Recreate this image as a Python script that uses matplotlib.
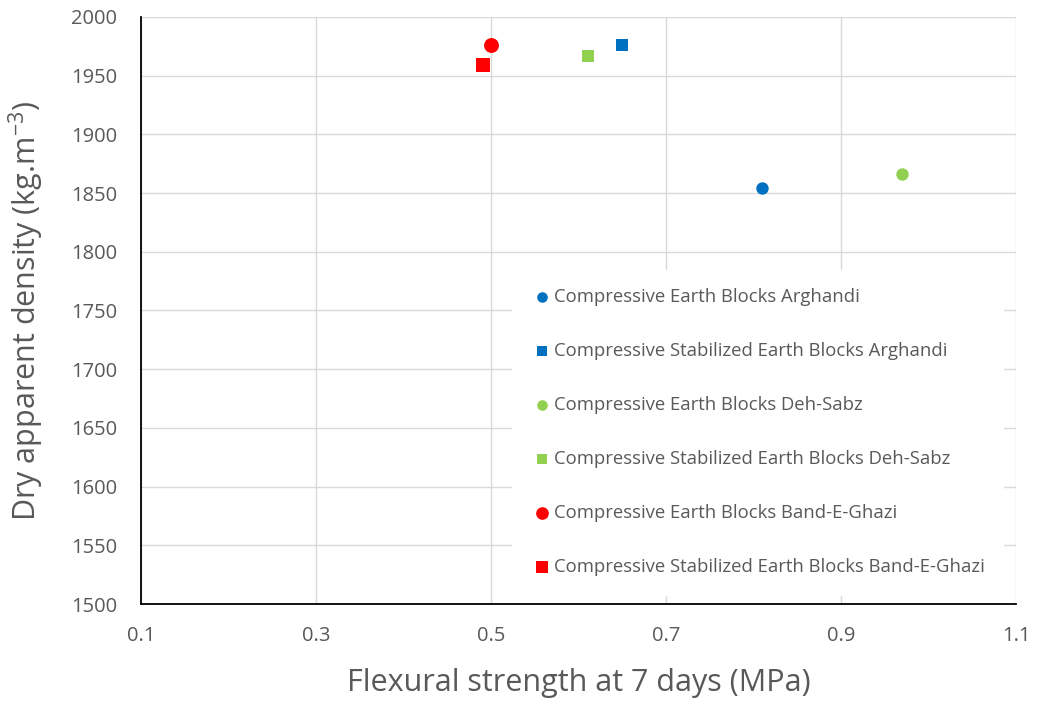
import matplotlib
matplotlib.use("Agg")
import matplotlib.pyplot as plt

# ---------------------------------------------------------------------
# Data
# ---------------------------------------------------------------------
LABELS = [
    "Compressive Earth Blocks Arghandi",
    "Compressive Stabilized Earth Blocks Arghandi",
    "Compressive Earth Blocks Deh-Sabz",
    "Compressive Stabilized Earth Blocks Deh-Sabz",
    "Compressive Earth Blocks Band-E-Ghazi",
    "Compressive Stabilized Earth Blocks Band-E-Ghazi",
]
FLEXURAL = [0.81, 0.65, 0.97, 0.611, 0.50, 0.491]
DENSITY = [1854, 1976, 1866, 1967, 1976, 1959]

COLORS = ["#0070C0", "#0070C0", "#92D050", "#92D050", "#FF0000", "#FF0000"]
MARKERS = ["o", "s", "o", "s", "o", "s"]
SIZES = [80, 85, 80, 85, 115, 95]

TEXT = "#595959"
plt.rcParams["font.family"] = ["Open Sans", "DejaVu Sans"]

fig = plt.figure(figsize=(10.41, 7.02), dpi=100)
ax = fig.add_axes([0.1354, 0.1396, 0.8406, 0.8362])

for x, y, c, m, s, lab in zip(FLEXURAL, DENSITY, COLORS, MARKERS, SIZES, LABELS):
    ax.scatter(x, y, color=c, marker=m, s=s, label=lab, linewidths=0, zorder=3)

ax.set_xlim(0.1, 1.1)
ax.set_ylim(1500, 2000)
ax.set_xticks([0.1, 0.3, 0.5, 0.7, 0.9, 1.1])
ax.set_xticklabels(["0.1", "0.3", "0.5", "0.7", "0.9", "1.1"])
ax.set_yticks(range(1500, 2001, 50))
ax.grid(color="#D9D9D9", linewidth=1.0)
ax.set_axisbelow(True)

for side in ("top", "right"):
    ax.spines[side].set_visible(False)
for side in ("left", "bottom"):
    ax.spines[side].set_color("black")
    ax.spines[side].set_linewidth(1.3)

ax.tick_params(axis="both", length=0, labelsize=14.5, colors=TEXT)
ax.tick_params(axis="x", pad=16)
ax.tick_params(axis="y", pad=17)
ax.set_xlabel("Flexural strength at 7 days (MPa)", fontsize=22, color=TEXT, labelpad=16)
ax.set_ylabel(r"Dry apparent density (kg.m$^{\mathregular{-3}}$)", fontsize=22,
              color=TEXT, labelpad=18)

leg = ax.legend(loc="lower right", bbox_to_anchor=(0.996, 0.0), fontsize=13.3,
                frameon=True, fancybox=False, edgecolor="white", framealpha=1.0,
                labelspacing=1.95, handletextpad=0.05, borderpad=1.0,
                markerscale=0.85, borderaxespad=0.5, handlelength=1.2)
for t in leg.get_texts():
    t.set_color(TEXT)

fig.savefig("out.png", dpi=100)
